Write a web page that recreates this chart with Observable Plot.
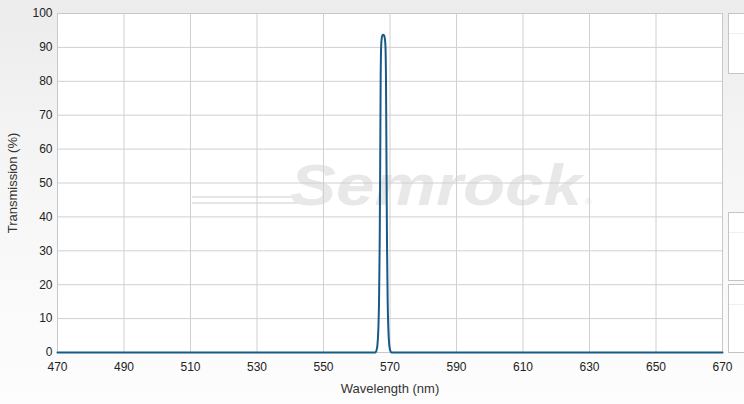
<!DOCTYPE html>
<html>
<head>
<meta charset="utf-8">
<script src="https://cdn.jsdelivr.net/npm/d3@7"></script>
<script src="https://cdn.jsdelivr.net/npm/@observablehq/plot@0.6"></script>
<style>
  html, body { margin: 0; padding: 0; }
  body { width: 744px; height: 404px; overflow: hidden; }
  #wrap { position: relative; width: 744px; height: 404px;
    background: linear-gradient(to bottom, #ececec 0%, #f6f6f6 45%, #fdfdfd 100%);
    font-family: "Liberation Sans", Arial, sans-serif; }
  #chart { position: absolute; left: 0; top: 0; }
  .side { position: absolute; left: 728px; width: 30px; background: #fff;
    border: 1px solid #c4c4c4; box-sizing: border-box; }
  .side::after { content: ""; position: absolute; left: 0; right: 0; top: 19px; border-top: 1px solid #f0f0f0; }
  g[aria-label="x-axis label"] text, g[aria-label="y-axis label"] text { font-size: 13px; fill: #333; }
</style>
</head>
<body>
<div id="wrap">
  <div id="chart"></div>
  <div class="side" style="top:13px;height:61px;"></div>
  <div class="side" style="top:212px;height:69px;"></div>
  <div class="side" style="top:284px;height:69px;"></div>
</div>
<script>
// ---- data ----
const wavelengths  = [470, 565.6, 565.9, 566.2, 566.5, 566.7, 566.9, 567.05, 567.2, 567.4, 567.7, 568.0, 568.3, 568.6, 568.8, 568.95, 569.1, 569.3, 569.5, 569.8, 570.1, 570.4, 670];
const transmission = [0,   0,     0.5,   2,     7,     15,    32,    55,     82,    91.5,  93.5,  93.7,  93.3,  91,    80,    55,     32,    15,    7,     2,     0.5,   0,     0];
const xTicks = [470, 490, 510, 530, 550, 570, 590, 610, 630, 650, 670];
const yTicks = [0, 10, 20, 30, 40, 50, 60, 70, 80, 90, 100];
const xTitle = "Wavelength (nm)";
const yTitle = "Transmission (%)";
const brand = "Semrock";

const data = wavelengths.map((w, i) => ({w, t: transmission[i]}));

// faint brand watermark behind the grid
function watermark(index, scales, values, dims) {
  const ml = dims.marginLeft, mt = dims.marginTop;
  const g = d3.create("svg:g").attr("text-anchor", "start");
  const defs = g.append("defs");
  const grad = defs.append("linearGradient").attr("id", "rainbow").attr("x1", "0").attr("x2", "1");
  [["0%", "#e2e2fa"], ["25%", "#dcf0fa"], ["50%", "#eaf6d8"], ["70%", "#faf2d6"], ["100%", "#fadede"]]
    .forEach(([o, c]) => grad.append("stop").attr("offset", o).attr("stop-color", c));
  // swoosh lines on the left
  [184, 190].forEach(y => {
    g.append("line").attr("x1", ml + 135).attr("x2", ml + 245)
      .attr("y1", mt + y).attr("y2", mt + y)
      .attr("stroke", "#e6e6e6").attr("stroke-width", 2);
  });
  // rainbow lines above
  [150, 154].forEach(y => {
    g.append("line").attr("x1", ml + 233).attr("x2", ml + 495)
      .attr("y1", mt + y).attr("y2", mt + y)
      .attr("stroke", "url(#rainbow)").attr("stroke-width", 2.5);
  });
  g.append("text")
    .attr("x", ml + 233).attr("y", mt + 192)
    .attr("textLength", 292).attr("lengthAdjust", "spacingAndGlyphs")
    .attr("font-family", "Liberation Sans, Arial, sans-serif")
    .attr("font-weight", "bold").attr("font-style", "italic")
    .attr("font-size", 58).attr("fill", "#e8e8e8")
    .text(brand);
  g.append("text")
    .attr("x", ml + 528).attr("y", mt + 192)
    .attr("font-family", "Liberation Sans, Arial, sans-serif")
    .attr("font-size", 9).attr("fill", "#e4e4e4").text("®");
  return g.node();
}

const chart = Plot.plot({
  width: 744,
  height: 404,
  marginLeft: 57,
  marginRight: 22,
  marginTop: 13,
  marginBottom: 52,
  style: {background: "transparent", fontFamily: "Liberation Sans, Arial, sans-serif", fontSize: "12px", color: "#222"},
  x: {domain: [470, 670], ticks: xTicks},
  y: {domain: [0, 100], ticks: yTicks},
  marks: [
    Plot.frame({fill: "white", stroke: null}),
    watermark,
    Plot.gridX(xTicks, {stroke: "#d0d0d0", strokeOpacity: 1}),
    Plot.gridY(yTicks, {stroke: "#d0d0d0", strokeOpacity: 1}),
    Plot.frame({stroke: "#c8c8c8"}),
    Plot.axisX({ticks: xTicks, tickSize: 0, tickPadding: 10, label: xTitle, labelAnchor: "center", labelArrow: false, labelOffset: 40, fontSize: 12}),
    Plot.axisY({ticks: yTicks, tickSize: 0, tickPadding: 5, label: yTitle, labelAnchor: "center", labelArrow: false, labelOffset: 50, fontSize: 12}),
    Plot.line(data, {x: "w", y: "t", stroke: "#175a88", strokeWidth: 2, curve: "monotone-x"})
  ]
});
document.getElementById("chart").appendChild(chart);
</script>
</body>
</html>
